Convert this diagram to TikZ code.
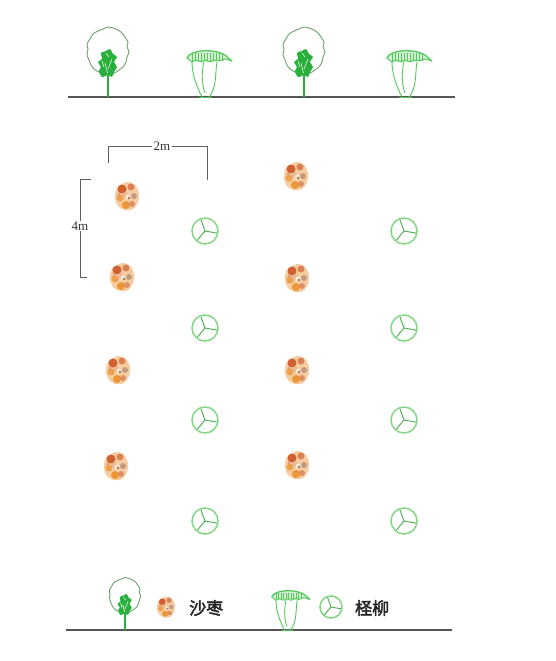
\documentclass[tikz,border=0pt]{standalone}
\usepackage{fontspec}
\setmainfont{Liberation Serif}
\newfontfamily\cjk{Noto Sans CJK SC}[AutoFakeBold=2.5]
\usepackage{xcolor}
\usepackage{tikz}

\definecolor{treegreen}{RGB}{40,175,60}
\definecolor{leafgreen}{RGB}{85,200,90}
\definecolor{crowngray}{RGB}{110,160,115}
\definecolor{ringgreen}{RGB}{130,215,130}
\definecolor{rust}{RGB}{205,85,35}
\definecolor{amber}{RGB}{235,150,55}
\definecolor{sand}{RGB}{245,205,160}
\definecolor{bark}{RGB}{140,80,55}
\definecolor{groundgray}{RGB}{85,85,85}
\definecolor{dimgray}{RGB}{95,95,95}

\begin{document}
\begin{tikzpicture}[
  x=1pt,y=-1pt,
  ground/.style={groundgray,line width=1.6pt},
  dimline/.style={dimgray,line width=0.9pt},
  crownline/.style={crowngray,line width=0.9pt},
  leafline/.style={leafgreen,line width=0.9pt},
  ringline/.style={ringgreen,line width=1.5pt},
  spoke/.style={leafgreen!85!black,line width=0.9pt},
  dimtext/.style={font=\fontsize{13}{14}\selectfont,text=black!80,inner sep=1pt},
  legendtext/.style={font=\cjk\bfseries\fontsize{17}{18}\selectfont,text=black!85,inner sep=0pt},
  roundtree/.pic={
    \draw[crownline] plot[smooth cycle] coordinates {(-4,-23) (-9,-25) (-14,-28)
      (-17,-32) (-19,-37) (-21,-42) (-20,-48) (-21,-53) (-18,-58) (-15,-63)
      (-10,-66) (-5,-68) (0,-70) (5,-69) (10,-67) (14,-64) (17,-60) (20,-55)
      (19,-50) (21,-45) (19,-40) (18,-35) (15,-30) (11,-27) (6,-24)};
    \fill[treegreen] plot[smooth cycle] coordinates {(-6,-20) (-9,-26) (-7,-30)
      (-10,-35) (-6,-38) (-7,-44) (-2,-46) (2,-48) (5,-43) (9,-40) (6,-35)
      (9,-30) (6,-25) (4,-20) (0,-22)};
    \draw[white,line width=0.5pt] (0,-22) -- (-3,-34) (0,-28) -- (4,-38)
      (-4,-30) -- (-6,-36) (1,-40) -- (-2,-44);
    \draw[treegreen,line width=1.5pt] (0,0) -- (0,-24);
  },
  umbrella/.pic={
    \draw[leafline] (-3,0) .. controls (-8,-10) and (-13,-22) .. (-13,-35);
    \draw[leafline] (4,0) .. controls (12,-9) and (10,-24) .. (12,-35);
    \draw[leafline] (0,-4) .. controls (-4,-15) and (-3,-26) .. (-1,-36);
    \fill[leafgreen!25] (-18,-39) .. controls (-15,-47) and (8,-49) .. (20,-42)
      -- (27,-36) -- (20,-38) -- (14,-36) -- (5,-35) -- (-4,-35) -- (-13,-35) -- cycle;
    \draw[leafline,line width=1.3pt] (-18,-39) .. controls (-15,-47) and (8,-49) .. (20,-42) -- (27,-36);
    \draw[leafline] (-18,-39) -- (-13,-35) -- (-9,-37) -- (-4,-35) -- (0,-37)
      -- (5,-35) -- (9,-37) -- (14,-36) -- (20,-38) -- (27,-36);
    \foreach \u in {-13,-10,...,17} \draw[leafline] (\u,-44) -- (\u,-36);
    \draw[leafline] (-6,0) -- (7,0);
  },
  shrub/.pic={
    \fill[sand] plot[smooth cycle] coordinates {(0,-14) (8,-11) (12,-3) (11,6)
      (6,13) (-2,14) (-9,10) (-12,2) (-10,-8)};
    \fill[rust,opacity=0.9] (-5,-7) circle (4.5);
    \fill[rust!85,opacity=0.8] (4,-9) circle (3.5);
    \fill[amber,opacity=0.8] (-7,2) circle (3.5);
    \fill[bark!70,opacity=0.7] (7,0) circle (3);
    \fill[amber] (-1,9) circle (4);
    \fill[rust!75,opacity=0.8] (5,8) circle (3);
    \fill[rust!50,opacity=0.6] (-2,-1) circle (3);
    \fill[sand!40] (1,1) circle (2.5);
    \fill[bark,opacity=0.8] (2,2) circle (1.3);
    \fill[rust!60] (-8,-2) circle (1.5);
  },
  tamarisk/.pic={
    \draw[ringline] (0,0) circle (13);
    \draw[spoke] (0,0) -- (250:12) (0,0) -- (10:12) (0,0) -- (130:12);
  }
]
\useasboundingbox (0,0) rectangle (556,661);

% ground line with the side view
\coordinate (topL) at (68,97);
\coordinate (topR) at (455,97);
\draw[ground] (topL) -- (topR);
\foreach \x in {108,304} \pic at (\x,97) {roundtree};
\foreach \x in {205,405} \pic at (\x,97) {umbrella};

% plan view
\foreach \x/\y in {127/196,122/277,118/370,116/466,296/176,297/278,297/370,297/465}
  \pic at (\x,\y) {shrub};
\foreach \y in {231,328,420,521} {
  \pic at (205,\y) {tamarisk};
  \pic at (404,\y) {tamarisk};
}

% spacing marks
\node[dimtext] (dimtwo) at (162,146) {2m};
\draw[dimline] (108,163) |- (dimtwo.west);
\draw[dimline] (dimtwo.east) -| (207,180);
\node[dimtext] (dimfour) at (80,226) {4m};
\draw[dimline] (91,179) -| (dimfour.north);
\draw[dimline] (dimfour.south) |- (87,277);

% legend
\coordinate (botL) at (66,630);
\coordinate (botR) at (452,630);
\draw[ground] (botL) -- (botR);
\pic[scale=0.75] at (125,630) {roundtree};
\pic[scale=0.75] at (166,607) {shrub};
\node[legendtext,anchor=west] (lgsha) at (189,608) {沙枣};
\pic[scale=0.85] at (287,630) {umbrella};
\pic[scale=0.85] at (331,607) {tamarisk};
\node[legendtext,anchor=west] (lgcheng) at (355,608) {柽柳};
\end{tikzpicture}
\end{document}
